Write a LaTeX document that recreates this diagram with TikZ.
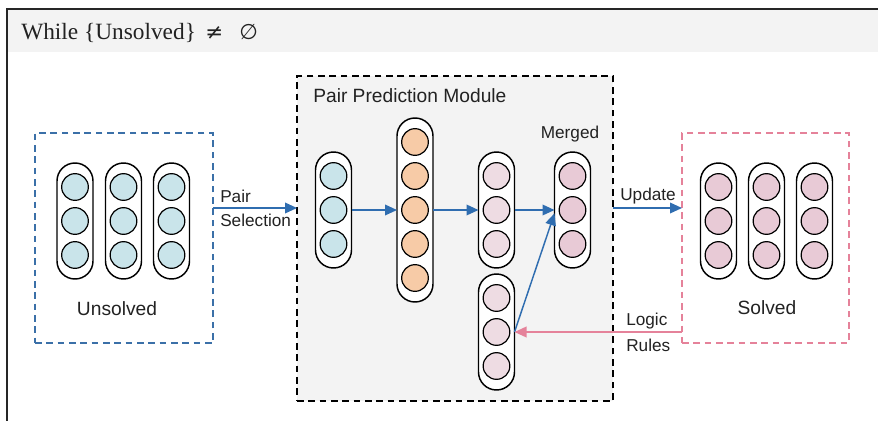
\documentclass[tikz,border=0pt]{standalone}
\usepackage{fontspec}
\setmainfont{Liberation Serif}
\newfontfamily\sansf{Liberation Sans}
\newfontfamily\dejav{DejaVu Sans}
\usetikzlibrary{arrows.meta,calc}
\definecolor{cblue}{HTML}{C9E4EA}
\definecolor{corange}{HTML}{F7CBA7}
\definecolor{cpinkl}{HTML}{EEDCE3}
\definecolor{cpink}{HTML}{E8CAD6}
\definecolor{abblue}{HTML}{2F6DB0}
\definecolor{abpink}{HTML}{E5829A}
\definecolor{dblue}{HTML}{3B70A8}
\definecolor{bggray}{HTML}{F3F3F3}
\definecolor{txt}{HTML}{222222}
\newcommand{\capcol}[5]{%
  \pgfmathsetmacro\hh{(#4-1)*34+48}
  \node[capsule, minimum height=\hh*0.75pt] (#1) at (#2,#3) {};
  \foreach \k in {1,...,#4} {
    \node[ball, fill=#5] (#1-\k) at (#2, {#3 + (\k - (#4+1)/2)*34}) {};
  }
}
\tikzset{
  capsule/.style={draw=black, line width=1.1pt, fill=white, rounded corners=13.5pt, minimum width=27pt, inner sep=0pt, outer sep=0pt},
  ball/.style={circle, draw=black, line width=0.9pt, minimum size=20pt, inner sep=0pt},
  flow/.style={-{Triangle[length=9pt,width=8pt]}, line width=1.1pt, draw=abblue},
  pinkflow/.style={-{Triangle[length=9pt,width=8pt]}, line width=1.1pt, draw=abpink},
  dbox/.style={rectangle, line width=1.1pt, dash pattern=on 5pt off 3.5pt, inner sep=0pt, outer sep=0pt},
  lbl/.style={font=\sansf\fontsize{12.9}{15}\selectfont, text=txt, inner sep=0pt},
  title/.style={font=\sansf\fontsize{14.4}{17}\selectfont, text=txt, inner sep=0pt},
}
\begin{document}
\begin{tikzpicture}[x=0.75pt, y=-0.75pt]
\clip (0,0) rectangle (878,421);
\useasboundingbox (0,0) rectangle (878,421);
% header band and outer frame
\fill[bggray] (7,9) rectangle (890,52);
\draw[line width=1.5pt, black!85] (890,9) -- (7,9) -- (7,440);
\node[anchor=base west, inner sep=0pt, text=txt, font=\fontsize{17.5}{20}\selectfont] (hdr) at (21,39)
  {While \{Unsolved\} {\dejav\fontsize{16}{18}\selectfont\,≠\;\, ∅}};
% boxes
\node[dbox, draw=dblue, minimum width=133.5pt, minimum height=157.5pt] (U) at (124,238) {};
\node[dbox, draw=black, fill=bggray, minimum width=237pt, minimum height=243.75pt] (M) at (455,238.5) {};
\node[dbox, draw=abpink, minimum width=125.25pt, minimum height=157.5pt] (S) at (765.5,238) {};
\node[title, anchor=base west] (mt) at (313,102) {Pair Prediction Module};
\node[title, anchor=base] (ut) at (117,315) {Unsolved};
\node[title, anchor=base] (st) at (767,314) {Solved};
\node[lbl, anchor=base] (mg) at (570,138) {Merged};
% unsolved columns
\capcol{u1}{75}{221}{3}{cblue}
\capcol{u2}{123.5}{221}{3}{cblue}
\capcol{u3}{171.5}{221}{3}{cblue}
% solved columns
\capcol{s1}{718.5}{221}{3}{cpink}
\capcol{s2}{766.5}{221}{3}{cpink}
\capcol{s3}{814.5}{221}{3}{cpink}
% module columns
\capcol{A}{333.5}{210}{3}{cblue}
\capcol{B}{415}{210}{5}{corange}
\capcol{C}{496.5}{210}{3}{cpinkl}
\capcol{D}{572.5}{210}{3}{cpink}
\capcol{E}{496.5}{332}{3}{cpinkl}
% connectors
\draw[flow] (A.east) -- (B.west);
\draw[flow] (B.east) -- (C.west);
\draw[flow] (C.east) -- (D.west);
\draw[flow] (E.east) -- ([yshift=-2.5pt]D.west);
\draw[flow] (U.east |- 0,208) -- (M.west |- 0,208);
\draw[flow] (M.east |- 0,208) -- (S.west |- 0,208);
\draw[pinkflow] (S.west |- E.east) -- (E.east);
% edge labels
\node[lbl, anchor=base west] (l1) at (220,202) {Pair};
\node[lbl, anchor=base west] (l2) at (220,226) {Selection};
\node[lbl, anchor=base west] (l3) at (620,200) {Update};
\node[lbl, anchor=base west] (l4) at (626,325) {Logic};
\node[lbl, anchor=base west] (l5) at (626,351) {Rules};
\end{tikzpicture}
\end{document}
